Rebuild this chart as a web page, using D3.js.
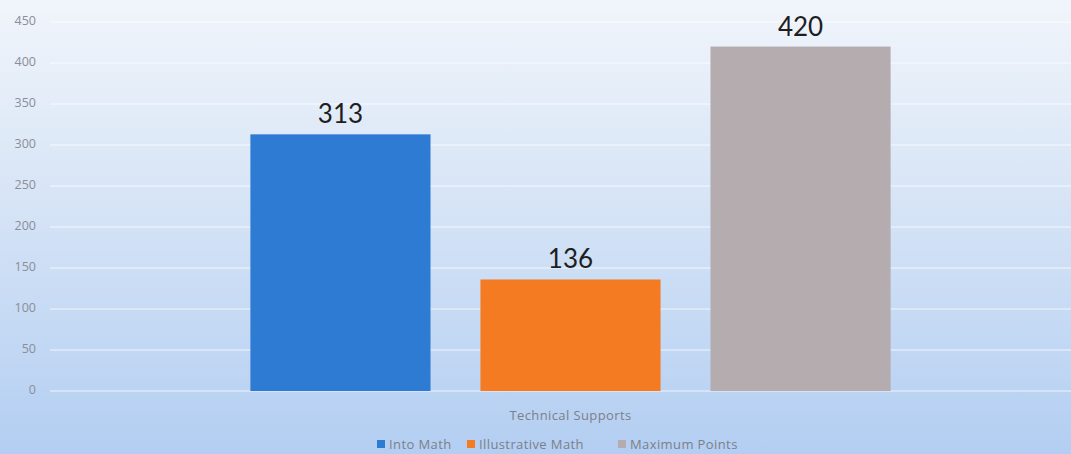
<!DOCTYPE html>
<html>
<head>
<meta charset="utf-8">
<script src="https://cdn.jsdelivr.net/npm/d3@7"></script>
<style>
  body { margin: 0; overflow: hidden; }
  svg { display: block; }
</style>
</head>
<body>
<svg id="chart" width="1071" height="454"></svg>
<script>
// data
var categories = ["Technical Supports"];
var seriesNames = ["Into Math", "Illustrative Math", "Maximum Points"];
var seriesValues = [313, 136, 420];
var seriesColors = ["#2e7bd4", "#f57b22", "#b4acae"];
var yTicks = [0, 50, 100, 150, 200, 250, 300, 350, 400, 450];

var width = 1071, height = 454;
var svg = d3.select("#chart");

// background gradient
var defs = svg.append("defs");
var grad = defs.append("linearGradient")
  .attr("id", "bg")
  .attr("x1", 0).attr("y1", 0).attr("x2", 0).attr("y2", 1);
grad.append("stop").attr("offset", "0%").attr("stop-color", "#f1f5fb");
grad.append("stop").attr("offset", "45%").attr("stop-color", "#d6e4f6");
grad.append("stop").attr("offset", "100%").attr("stop-color", "#b3cef2");

svg.append("rect")
  .attr("width", width).attr("height", height)
  .attr("fill", "url(#bg)");

var y = d3.scaleLinear().domain([0, 450]).range([391, 22]);

var x0 = d3.scaleBand()
  .domain(categories)
  .range([50, 1091])
  .paddingInner(0)
  .paddingOuter(0.313);

var x1 = d3.scaleBand()
  .domain(seriesNames)
  .range([0, x0.bandwidth()])
  .paddingInner(0.217);

// gridlines
svg.append("g")
  .selectAll("line")
  .data(yTicks)
  .enter()
  .append("line")
  .attr("x1", 50)
  .attr("x2", width)
  .attr("y1", function(d) { return y(d); })
  .attr("y2", function(d) { return y(d); })
  .attr("stroke", "#ffffff")
  .attr("stroke-opacity", 0.75)
  .attr("stroke-width", 1.2);

// y axis labels
var yAxis = d3.axisLeft(y).tickValues(yTicks).tickSize(0).tickPadding(0);
var gy = svg.append("g")
  .attr("transform", "translate(36,-2)")
  .call(yAxis);
gy.select(".domain").remove();
gy.selectAll("text")
  .style("font-family", "'Open Sans', sans-serif")
  .style("font-size", "12.5px")
  .attr("fill", "#8a8e96");

// bars
var group = svg.append("g")
  .selectAll("g")
  .data(categories)
  .enter()
  .append("g")
  .attr("transform", function(d) { return "translate(" + x0(d) + ",0)"; });

group.selectAll("rect")
  .data(seriesNames)
  .enter()
  .append("rect")
  .attr("x", function(d) { return x1(d); })
  .attr("width", x1.bandwidth())
  .attr("y", function(d, i) { return y(seriesValues[i]); })
  .attr("height", function(d, i) { return y(0) - y(seriesValues[i]); })
  .attr("fill", function(d, i) { return seriesColors[i]; });

// value labels
group.selectAll("text.val")
  .data(seriesNames)
  .enter()
  .append("text")
  .attr("class", "val")
  .attr("x", function(d) { return x1(d) + x1.bandwidth() / 2; })
  .attr("y", function(d, i) { return y(seriesValues[i]) - 11; })
  .attr("text-anchor", "middle")
  .style("font-family", "Lato, 'Open Sans', sans-serif")
  .style("font-size", "26px")
  .attr("fill", "#1e1e1e")
  .text(function(d, i) { return seriesValues[i]; });

// x category label
svg.append("g")
  .selectAll("text")
  .data(categories)
  .enter()
  .append("text")
  .attr("x", function(d) { return x0(d) + x0.bandwidth() / 2; })
  .attr("y", 420)
  .attr("text-anchor", "middle")
  .style("font-family", "'Open Sans', sans-serif")
  .style("font-size", "13px")
  .style("letter-spacing", "0.4px")
  .attr("fill", "#7c8088")
  .text(function(d) { return d; });

// legend
var legendX = [377, 467, 618];
var leg = svg.append("g")
  .selectAll("g")
  .data(seriesNames)
  .enter()
  .append("g")
  .attr("transform", function(d, i) { return "translate(" + legendX[i] + ",449)"; });

leg.append("rect")
  .attr("width", 8)
  .attr("height", 8)
  .attr("y", -9)
  .attr("fill", function(d, i) { return seriesColors[i]; });

leg.append("text")
  .attr("x", 12)
  .attr("y", 0)
  .style("font-family", "'Open Sans', sans-serif")
  .style("font-size", "13px")
  .style("letter-spacing", "0.4px")
  .attr("fill", "#7c8088")
  .text(function(d) { return d; });
</script>
</body>
</html>
